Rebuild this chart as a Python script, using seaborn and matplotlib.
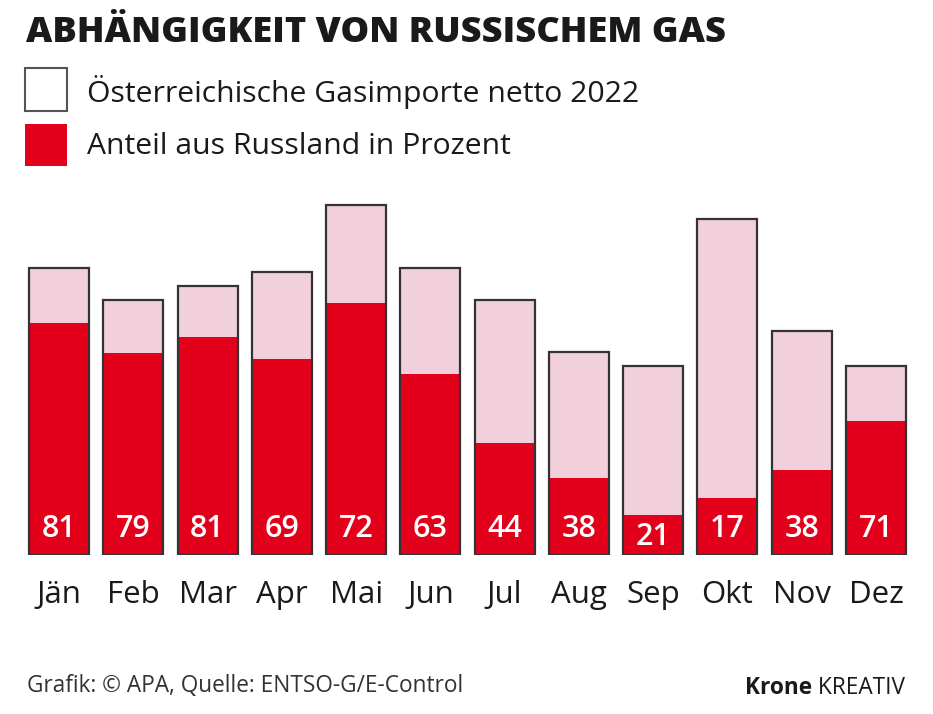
import matplotlib
matplotlib.use("Agg")
import matplotlib.pyplot as plt
from matplotlib import font_manager
from matplotlib.patches import Rectangle
import seaborn as sns
import pandas as pd
import numpy as np

# ---- data (net imports in relative units) ----
months = ["Jän", "Feb", "Mar", "Apr", "Mai", "Jun", "Jul", "Aug", "Sep", "Okt", "Nov", "Dez"]
imports_net = [8.2, 7.3, 7.7, 8.1, 10.0, 8.2, 7.3, 5.8, 5.4, 9.6, 6.4, 5.4]
russia_pct = [81, 79, 81, 69, 72, 63, 44, 38, 21, 17, 38, 71]

title = "ABHÄNGIGKEIT VON RUSSISCHEM GAS"
legend_labels = ["Österreichische Gasimporte netto 2022", "Anteil aus Russland in Prozent"]
source = "Grafik: © APA, Quelle: ENTSO-G/E-Control"

df = pd.DataFrame({"month": months, "total": imports_net, "pct": russia_pct})
df["russia"] = df["total"] * df["pct"] / 100.0

sns.set_theme(style="white")
names = {f.name for f in font_manager.fontManager.ttflist}
narrow = "Liberation Sans Narrow" if "Liberation Sans Narrow" in names else "Open Sans"
plt.rcParams["font.family"] = [narrow, "DejaVu Sans"]

RED = "#E2001A"
PINK = "#F2D0DB"
EDGE = "#333333"
TXT = "#1A1A1A"

W, H = 933, 714
fig = plt.figure(figsize=(W / 100, H / 100), dpi=100)

def fx(x):
    return x / W

def fy(y):
    return 1 - y / H

# axes: baseline at y=555px, bars from x~29 to 905
pitch = (846 - 29) / 11
left_px = 59 - 0.5 * pitch
ax = fig.add_axes([fx(left_px), fy(555), 12 * pitch / W, (555 - 195) / H])

bw = 60 / pitch
sns.barplot(data=df, x="month", y="total", color=PINK, width=bw, ax=ax,
            saturation=1, edgecolor="none", linewidth=0, zorder=1)
sns.barplot(data=df, x="month", y="russia", color=RED, width=bw, ax=ax,
            saturation=1, edgecolor="none", linewidth=0, zorder=2)
sns.barplot(data=df, x="month", y="total", color="none", width=bw, ax=ax,
            saturation=1, edgecolor=EDGE, linewidth=1.6, fill=False, zorder=3)

px_per_unit = 350 / 10.0
ax.set_ylim(0, 360 / px_per_unit)
ax.set_xlim(-0.5, 11.5)
ax.axis("off")

# value labels inside red part
lab_y = (555 - 529) / px_per_unit
for i, (r, p) in enumerate(zip(df["russia"], russia_pct)):
    y = min(lab_y, r / 2 - 2 / px_per_unit)
    ax.text(i, y, str(p), ha="center", va="center", color="white",
            fontsize=22, fontweight="semibold", zorder=4)

# month labels
for i, m in enumerate(months):
    ax.text(i, -(595 - 555) / px_per_unit, m, ha="center", va="center",
            color=TXT, fontsize=22.5, zorder=4)

# title
fig.text(fx(26), fy(33), title, ha="left", va="center", fontsize=26.1,
         fontweight="heavy", color=TXT, family=[narrow, "DejaVu Sans"])

# legend
fig.patches.append(Rectangle((fx(25), fy(111)), fx(42), 43 / H, transform=fig.transFigure,
                             facecolor="white", edgecolor="#555555", linewidth=1.5))
fig.patches.append(Rectangle((fx(25), fy(166)), fx(42), 42 / H, transform=fig.transFigure,
                             facecolor=RED, edgecolor="none"))
fig.text(fx(87), fy(92), legend_labels[0], ha="left", va="center", fontsize=21.7, color=TXT)
fig.text(fx(87), fy(147), legend_labels[1], ha="left", va="center", fontsize=21.7, color=TXT)

# footer
fig.text(fx(27), fy(686), source, ha="left", va="center", fontsize=16.3, color="#333333")
t2 = fig.text(fx(905), fy(688), " KREATIV", ha="right", va="center", fontsize=16.3, color=TXT)
fig.canvas.draw()
bb = t2.get_window_extent()
fig.text(bb.x0 / W, fy(688), "Krone", ha="right", va="center", fontsize=16.3,
         fontweight="bold", color=TXT)

fig.savefig("out.png", dpi=100, facecolor="white")
